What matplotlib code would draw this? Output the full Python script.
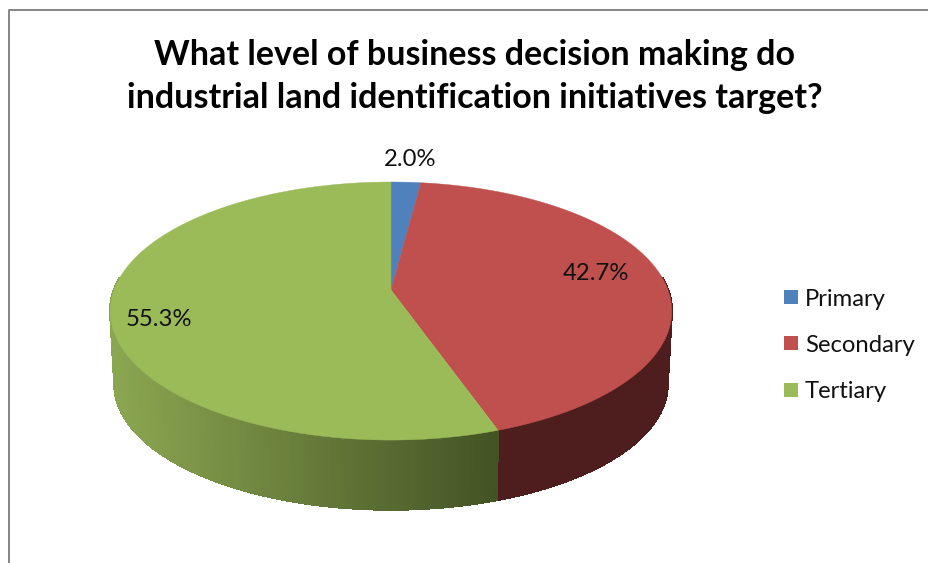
import numpy as np
import matplotlib
matplotlib.use("Agg")
import matplotlib.pyplot as plt
from matplotlib.patches import Polygon, Rectangle
from matplotlib.colors import to_rgb

categories = ["Primary", "Secondary", "Tertiary"]
values = [2.0, 42.7, 55.3]
colors = ["#4f81bd", "#c0504d", "#9bbb59"]
title_lines = ["What level of business decision making do",
               "industrial land identification initiatives target?"]

# pie geometry in pixels, the disc is tilted so the near side looks bigger
cx, cy = 391, 290
rx, ry = 277, 125.6
persp = 0.163
depth = 74


def project(theta):
    """ angle clockwise from 12 o'clock -> pixel position on the top face """
    x = np.sin(theta)
    y = np.cos(theta)
    w = 1 + persp * y
    return cx + rx * x / w, cy - ry * y / w


def lower(x, y):
    """ matching point on the bottom rim, slightly smaller than the top """
    return cx + (x - cx) * 0.985, cy + (y - cy) * 0.97 + depth


def blend(col, dark, t):
    c = np.array(to_rgb(col))
    d = np.array(to_rgb(dark))
    return tuple(c * (1 - t) + d * t)


plt.rcParams['font.family'] = ['Lato', 'DejaVu Sans']

fig = plt.figure(figsize=(9.29, 5.63), dpi=100)
ax = fig.add_axes([0, 0, 1, 1])
ax.set_xlim(0, 929)
ax.set_ylim(563, 0)
ax.axis("off")

# chart frame, only the top and left edges are visible
ax.plot([9, 9, 929], [563, 10, 10], color="#858585", lw=1.4)

edges = np.cumsum([0] + values) / 100 * 2 * np.pi

# side wall, drawn as thin strips so the shading can change along the rim
for i, col in enumerate(colors):
    a = np.linspace(edges[i], edges[i + 1], 300)
    for t0, t1 in zip(a[:-1], a[1:]):
        if np.cos((t0 + t1) / 2) > 0.1:
            continue
        x0, y0 = project(t0)
        x1, y1 = project(t1)
        if categories[i] == "Tertiary":
            f = np.clip((x0 - 112) / (499 - 112), 0, 1)
            shade = blend("#8ba651", "#435324", f)
        else:
            shade = "#4d1e1d"
        bx0, by0 = lower(x0, y0)
        bx1, by1 = lower(x1, y1)
        ax.add_patch(Polygon([(x0, y0), (x1, y1), (bx1, by1), (bx0, by0)],
                             facecolor=shade, edgecolor=shade, lw=1.0, antialiased=False))

# top face
for i, col in enumerate(colors):
    a = np.linspace(edges[i], edges[i + 1], 200)
    px, py = project(a)
    pts = np.column_stack([np.r_[cx, px], np.r_[cy, py]])
    ax.add_patch(Polygon(pts, facecolor=col, edgecolor=col, lw=0.3))

for s, x, y in zip(["2.0%", "42.7%", "55.3%"], [410, 596, 159], [160, 274, 320]):
    ax.text(x, y, s, fontsize=17.2, ha="center", va="center", color="#111111")

for line, y in zip(title_lines, [55, 98]):
    ax.text(475, y, line, fontsize=24.5, fontweight="bold",
            ha="center", va="center", color="#000000")

# legend
for name, col, y in zip(categories, colors, [297, 343, 390]):
    ax.add_patch(Rectangle((784, y - 7), 14, 14, facecolor=col, edgecolor="none"))
    ax.text(805, y + 2, name, fontsize=17.2, ha="left", va="center", color="#111111")

fig.savefig("out.png", dpi=100)
